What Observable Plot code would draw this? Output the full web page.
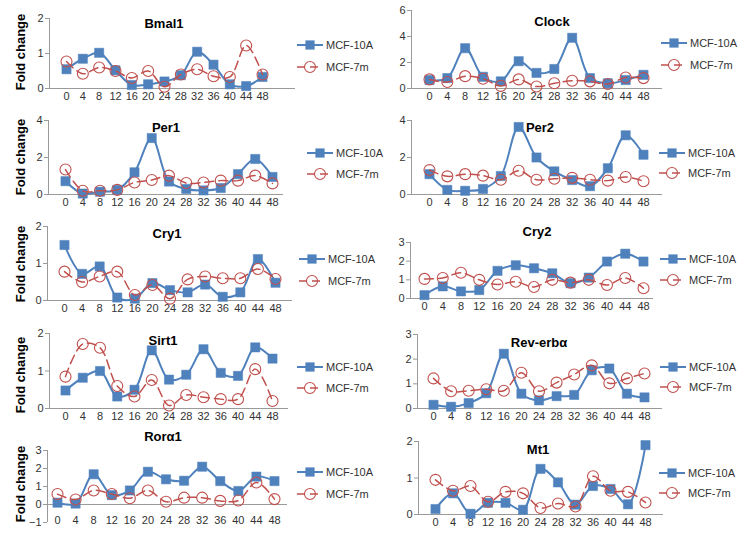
<!DOCTYPE html>
<html><head><meta charset="utf-8">
<script src="https://cdn.jsdelivr.net/npm/d3@7"></script>
<script src="https://cdn.jsdelivr.net/npm/@observablehq/plot@0.6"></script>
<style>
body{margin:0;background:#fff;font-family:"Liberation Sans",Arial,sans-serif}
#root{position:relative;width:739px;height:536px;overflow:hidden;background:#fff}
.p{position:absolute}
</style></head><body><div id="root"></div>
<script>
// Time points (hours)
const hours = [0,4,8,12,16,20,24,28,32,36,40,44,48];
const seriesNames = ["MCF-10A","MCF-7m"];
const titles = ["Bmal1","Clock","Per1","Per2","Cry1","Cry2","Sirt1","Rev-erbα","Rorα1","Mt1"];

const bmal1_10A = [0.55,0.85,1.02,0.52,0.10,0.12,0.20,0.38,1.05,0.68,0.12,0.07,0.33];
const bmal1_7m  = [0.77,0.42,0.60,0.50,0.30,0.50,0.05,0.40,0.55,0.35,0.33,1.23,0.40];
const clock_10A = [0.65,0.80,3.10,0.90,0.55,2.10,1.20,1.50,3.90,0.80,0.40,0.65,1.05];
const clock_7m  = [0.70,0.50,0.95,0.75,0.20,0.70,0.15,0.40,0.60,0.55,0.35,0.85,0.80];
const per1_10A  = [0.72,0.05,0.15,0.25,1.20,3.05,0.70,0.30,0.22,0.35,1.10,1.92,0.95];
const per1_7m   = [1.35,0.20,0.20,0.25,0.65,0.78,1.02,0.62,0.65,0.75,0.75,1.02,0.60];
const per2_10A  = [1.10,0.25,0.20,0.30,1.00,3.65,2.00,1.25,0.78,0.45,1.42,3.20,2.15];
const per2_7m   = [1.32,0.98,1.10,1.02,0.80,1.28,0.80,0.85,0.90,0.80,0.75,0.95,0.72];
const cry1_10A  = [1.50,0.72,0.92,0.08,0.05,0.47,0.28,0.22,0.43,0.10,0.22,1.12,0.48];
const cry1_7m   = [0.78,0.50,0.65,0.78,0.15,0.42,0.05,0.57,0.65,0.60,0.60,0.85,0.58];
const cry2_10A  = [0.18,0.65,0.38,0.45,1.48,1.78,1.62,1.35,0.82,1.12,1.98,2.40,1.98];
const cry2_7m   = [1.05,1.10,1.38,1.00,0.75,0.90,0.62,1.00,0.85,1.00,0.72,1.10,0.55];
const sirt1_10A = [0.48,0.82,1.00,0.32,0.50,1.55,0.77,0.90,1.58,0.95,0.87,1.63,1.33];
const sirt1_7m  = [0.85,1.72,1.62,0.60,0.32,0.76,0.08,0.36,0.30,0.25,0.25,1.05,0.20];
const rev_10A   = [0.15,0.07,0.22,0.62,2.22,0.60,0.33,0.50,0.55,1.55,1.62,0.60,0.45];
const rev_7m    = [1.22,0.70,0.72,0.78,0.72,1.45,0.70,1.05,1.38,1.75,1.02,1.22,1.42];
const ror_10A   = [0.10,0.05,1.68,0.52,0.78,1.82,1.40,1.32,2.10,1.30,0.75,1.55,1.30];
const ror_7m    = [0.58,0.28,0.78,0.58,0.35,0.78,0.15,0.38,0.38,0.20,0.22,1.22,0.30];
const mt1_10A   = [0.15,0.58,0.02,0.32,0.32,0.13,1.25,0.88,0.27,0.78,0.70,0.28,1.90];
const mt1_7m    = [0.95,0.65,0.78,0.35,0.62,0.58,0.18,0.30,0.22,1.05,0.65,0.62,0.33];

const yDomains = [[0,2],[0,6],[0,4],[0,4],[0,2],[0,3],[0,2],[0,3],[-1,3],[0,2]];
const yTicks = [[0,1,2],[0,2,4,6],[0,2,4],[0,2,4],[0,1,2],[0,1,2,3],[0,1,2],[0,1,2,3],[-1,0,1,2,3],[0,1,2]];
const dataA = [bmal1_10A,clock_10A,per1_10A,per2_10A,cry1_10A,cry2_10A,sirt1_10A,rev_10A,ror_10A,mt1_10A];
const dataB = [bmal1_7m,clock_7m,per1_7m,per2_7m,cry1_7m,cry2_7m,sirt1_7m,rev_7m,ror_7m,mt1_7m];

// Layout (pixel geometry per panel)
const layout = [
 {axisX:49, axisEnd:295, firstX:66, lastX:262, yTop:18, yBot:88, tx:164, ty:23, lx:310, ly:[45,67], fy:52},
 {axisX:411, axisEnd:662, firstX:429, lastX:643, yTop:10, yBot:88, tx:552, ty:21, lx:674, ly:[43,65]},
 {axisX:48, axisEnd:283, firstX:65, lastX:272, yTop:120, yBot:194, tx:166, ty:127, lx:320, ly:[153,174], fy:157},
 {axisX:411, axisEnd:662, firstX:429, lastX:643, yTop:120, yBot:194, tx:540, ty:127, lx:672, ly:[153,173]},
 {axisX:47, axisEnd:292, firstX:64, lastX:275, yTop:226, yBot:300, tx:167, ty:233, lx:312, ly:[259,281], fy:264},
 {axisX:410, axisEnd:653, firstX:424, lastX:643, yTop:242, yBot:298, tx:537, ty:231, lx:673, ly:[259,280]},
 {axisX:49, axisEnd:288, firstX:65, lastX:272, yTop:333, yBot:408, tx:163, ty:340, lx:310, ly:[367,388], fy:375},
 {axisX:417, axisEnd:662, firstX:433, lastX:644, yTop:334, yBot:408, tx:539, ty:342, lx:673, ly:[367,387]},
 {axisX:47, axisEnd:287, firstX:57, lastX:274, yTop:450, yBot:522, tx:163, ty:436, lx:310, ly:[472,494], fy:484, xpad:-6},
 {axisX:418, axisEnd:663, firstX:435, lastX:645, yTop:441, yBot:514, tx:538, ty:449, lx:672, ly:[473,493]}
];

const BLUE = "#4F81BD", RED = "#C0504D", AX = "#9a9a9a";
const root = document.getElementById("root");
const fmt = d => d < 0 ? "\u2212" + (-d) : String(d);

layout.forEach((c, i) => {
  const per = (c.lastX - c.firstX) / 48;
  const xs = -(c.firstX - c.axisX) / per;
  const xe = 48 + (c.axisEnd - c.lastX) / per;
  const ML = 30, MR = 2, MT = 8, MB = 20;
  const W = c.axisEnd - c.axisX + ML + MR;
  const H = c.yBot - c.yTop + MT + MB;
  const rows = hours.map((h, k) => ({h, a: dataA[i][k], b: dataB[i][k]}));
  const svg = Plot.plot({
    width: W, height: H, marginLeft: ML, marginRight: MR, marginTop: MT, marginBottom: MB,
    style: {fontFamily: '"Liberation Sans", Arial, sans-serif', fontSize: "11px", background: "transparent", overflow: "visible"},
    x: {type: "linear", domain: [xs, xe]},
    y: {domain: yDomains[i]},
    marks: [
      Plot.axisY({ticks: yTicks[i], tickFormat: fmt, tickSize: 4, tickPadding: 2, label: null, stroke: AX, fill: "#333"}),
      Plot.axisX({ticks: hours, tickFormat: fmt, tickSize: 0, tickPadding: c.xpad ?? 4, label: null, fill: "#333"}),
      Plot.ruleX([xs], {stroke: AX}),
      Plot.ruleY([0], {stroke: AX}),
      Plot.line(rows, {x: "h", y: "a", stroke: BLUE, strokeWidth: 2, curve: "catmull-rom"}),
      Plot.dot(rows, {x: "h", y: "a", r: 5.2, symbol: "square", fill: BLUE, stroke: BLUE, strokeWidth: 0.5}),
      Plot.line(rows, {x: "h", y: "b", stroke: RED, strokeWidth: 1.5, strokeDasharray: "9,5", curve: "catmull-rom"}),
      Plot.dot(rows, {x: "h", y: "b", r: 5.5, fill: "none", stroke: RED, strokeWidth: 1.1})
    ]
  });
  svg.classList.add("p");
  svg.style.left = (c.axisX - ML) + "px";
  svg.style.top = (c.yTop - MT) + "px";
  root.appendChild(svg);
});

// Overlay: titles, legends, y-axis labels
const ns = "http://www.w3.org/2000/svg";
const ov = document.createElementNS(ns, "svg");
ov.setAttribute("width", 739); ov.setAttribute("height", 536);
ov.setAttribute("class", "p"); ov.style.left = "0px"; ov.style.top = "0px";
ov.style.fontFamily = '"Liberation Sans", Arial, sans-serif';
root.appendChild(ov);
function el(tag, attrs, text) {
  const e = document.createElementNS(ns, tag);
  for (const k in attrs) e.setAttribute(k, attrs[k]);
  if (text != null) e.textContent = text;
  ov.appendChild(e); return e;
}
layout.forEach((c, i) => {
  el("text", {x: c.tx, y: c.ty, "text-anchor": "middle", "dominant-baseline": "central", "font-size": 13, "font-weight": "bold", fill: "#000"}, titles[i]);
  const y1 = c.ly[0], y2 = c.ly[1];
  el("line", {x1: c.lx - 13, x2: c.lx + 13, y1: y1, y2: y1, stroke: BLUE, "stroke-width": 2});
  el("rect", {x: c.lx - 4.6, y: y1 - 4.6, width: 9.2, height: 9.2, fill: BLUE});
  el("text", {x: c.lx + 16, y: y1, "dominant-baseline": "central", "font-size": 11, fill: "#333"}, seriesNames[0]);
  el("line", {x1: c.lx - 13, x2: c.lx + 13, y1: y2, y2: y2, stroke: RED, "stroke-width": 1.5, "stroke-dasharray": "8,5"});
  el("circle", {cx: c.lx, cy: y2, r: 5.5, fill: "none", stroke: RED, "stroke-width": 1.1});
  el("text", {x: c.lx + 16, y: y2, "dominant-baseline": "central", "font-size": 11, fill: "#333"}, seriesNames[1]);
  if (c.fy != null) {
    el("text", {x: 0, y: 0, transform: `translate(20,${c.fy}) rotate(-90)`, "text-anchor": "middle", "dominant-baseline": "central", "font-size": 13, "font-weight": "bold", fill: "#000"}, "Fold change");
  }
});
</script></body></html>
